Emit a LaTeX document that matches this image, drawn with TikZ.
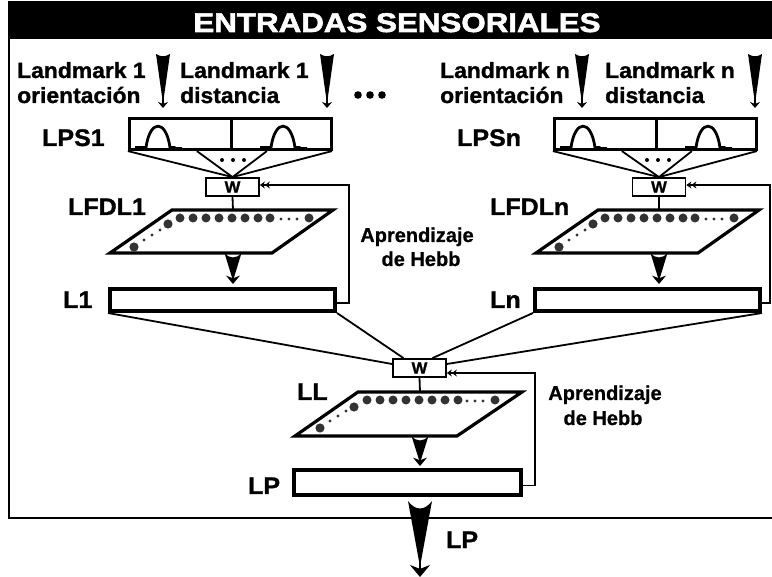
\documentclass[tikz,border=0pt]{standalone}
\usepackage{fontspec}
\setmainfont{Liberation Sans}
\newfontfamily\labf[FakeStretch=1.04,FakeBold=1.2]{Liberation Sans}
\newfontfamily\hdrf[FakeStretch=1.16,FakeBold=2.2]{Liberation Sans}
\newfontfamily\hebf[FakeBold=0.8]{Liberation Sans}
\usetikzlibrary{arrows.meta,calc}
\newcommand\wedgearr[6]{% #1 x, #2 ytop, #3 ytip, #4 half width, #5 notch, #6 head width
  \pgfmathsetmacro\wyb{#2+(#3-#2)*0.80}
  \fill (#1-#4,#2) .. controls (#1-#4*0.4,#2+#5) and (#1+#4*0.4,#2+#5) .. (#1+#4,#2) -- (#1+0.9,\wyb) -- (#1-0.9,\wyb) -- cycle;
  \draw[line width=1.5,-{Stealth[length=#6*0.6,width=#6]}] (#1,\wyb-1) -- (#1,#3);
}
\newcommand\bumps[2]{% #1 x offset, #2 y offset
  \foreach \bx in {0,125}{
    \draw[line width=2.8,line join=round] (135+#1+\bx,147.5+#2) -- (146+#1+\bx,147.5+#2) .. controls (150+#1+\bx,119+#2) and (166+#1+\bx,119+#2) .. (170+#1+\bx,147.5+#2) -- (175+#1+\bx,147.5+#2) -- (175+#1+\bx,148.5+#2) -- (182+#1+\bx,148.5+#2);
  }
}
\begin{document}
\begin{tikzpicture}[x=1pt,y=-1pt,
  lbl/.style={font=\labf\bfseries\fontsize{24}{26}\selectfont, inner sep=0, anchor=base west},
  txt/.style={font=\labf\bfseries\fontsize{22}{25}\selectfont, inner sep=0, anchor=base west},
  heb/.style={font=\hebf\bfseries\fontsize{20}{24}\selectfont, inner sep=0, anchor=base},
  wbox/.style={draw, line width=1.8, minimum width=53, minimum height=18, inner sep=0, font=\labf\bfseries\fontsize{16}{16}\selectfont},
  lbox/.style={draw, line width=4, inner sep=0},
  sbox/.style={draw, line width=3.2, inner sep=0, minimum width=202, minimum height=31},
  thin/.style={line width=1.8},
  para/.style={line width=3.2, line join=miter},
  dbl/.style={-{Stealth[length=5,width=7]Stealth[length=5,width=7]}},
  bdot/.style={fill=black!80},
]
\useasboundingbox (0,0) rectangle (772,577);
% frame and header
\fill (8,1) rectangle (790,39);
\draw[line width=2.2] (9,38) -- (9,518) -- (790,518);
\node[font=\hdrf\bfseries\fontsize{27}{27}\selectfont, text=white, anchor=base] (hdr) at (397,32) {ENTRADAS SENSORIALES};

% landmark texts
\node[txt] (t1a) at (17,78) {Landmark 1};
\node[txt] (t1b) at (17,103) {orientación};
\node[txt] (t2a) at (180,78) {Landmark 1};
\node[txt] (t2b) at (180,103) {distancia};
\node[txt] (t3a) at (440,78) {Landmark n};
\node[txt] (t3b) at (440,103) {orientación};
\node[txt] (t4a) at (605,78) {Landmark n};
\node[txt] (t4b) at (605,103) {distancia};
\wedgearr{163}{54}{108}{7}{3}{10}
\wedgearr{327}{54}{108}{7}{3}{10}
\wedgearr{582}{54}{108}{7}{3}{10}
\wedgearr{755}{54}{108}{7}{3}{10}
\foreach \dx in {358,370,382} \fill (\dx,95) circle (3.8);

% ---- group 1 ----
\node[sbox] (lps1) at (230.5,134) {};
\draw[line width=3] (lps1.north) ++(1,0) -- ++(0,31);
\bumps{0}{0}
\node[lbl] (lps1l) at (42,146) {LPS1};
\node[wbox] (w1) at (232.5,187) {W};
\foreach \dx in {0,69,139,204} \draw[thin] ($(lps1.south west)+(\dx,0)$) -- (w1.north);
\foreach \dx in {222,233,244} \fill (\dx,160) circle (2);
\coordinate (p1) at (233,210);
\draw[para] (172,210) -- (333,210) -- (272,253) -- (110,253) -- cycle;
\draw[thin] (w1.south) -- (p1);
\node[lbl] (lfdl1) at (68,215) {LFDL1};
\foreach \dx in {180,193,206,219,232,245,258,270,309} \fill[bdot] (\dx,218) circle (4.5);
\foreach \dx in {281,289,297} \fill[bdot] (\dx,219) circle (1.6);
\fill[bdot] (168,224) circle (4.6);
\fill[bdot] (134,247) circle (4.6);
\foreach \p in {(144,240),(152,235),(160,230)} \fill[bdot] \p circle (1.6);
\node[lbox, minimum width=225, minimum height=22] (L1) at (222.5,300) {};
\node[lbl] (L1l) at (63,308) {L1};
\wedgearr{233}{253}{284}{8.5}{6}{14}
\draw[thin,dbl] ([yshift=-3pt]L1.east) -| (349,185) -- ([yshift=2pt]w1.east);
\node[heb] (h1a) at (417,242) {Aprendizaje};
\node[heb] (h1b) at (421,266) {de Hebb};

% ---- group n ----
\node[sbox] (lpsn) at (655.5,134) {};
\draw[line width=3] (lpsn.north) ++(1,0) -- ++(0,31);
\bumps{425}{0}
\node[lbl] (lpsnl) at (457,146) {LPSn};
\node[wbox] (wn) at (659,187) {W};
\foreach \dx in {0,69,139,204} \draw[thin] ($(lpsn.south west)+(\dx,0)$) -- (wn.north);
\foreach \dx in {647,658,669} \fill (\dx,160) circle (2);
\coordinate (pn) at (659,210);
\draw[para] (598,210) -- (759,210) -- (698,253) -- (536,253) -- cycle;
\draw[thin] (wn.south) -- (pn);
\node[lbl] (lfdln) at (490,215) {LFDLn};
\foreach \dx in {180,193,206,219,232,245,258,270,309} \fill[bdot] (\dx+425,218) circle (4.5);
\foreach \dx in {281,289,297} \fill[bdot] (\dx+425,219) circle (1.6);
\fill[bdot] (593,224) circle (4.6);
\fill[bdot] (559,247) circle (4.6);
\foreach \p in {(569,240),(577,235),(585,230)} \fill[bdot] \p circle (1.6);
\node[lbox, minimum width=225, minimum height=22] (Ln) at (647.5,300) {};
\node[lbl] (Lnl) at (490,308) {Ln};
\wedgearr{659}{253}{284}{8.5}{6}{14}
\draw[thin,dbl] ([yshift=-3pt]Ln.east) -| (770,185) -- ([yshift=2pt]wn.east);

% ---- bottom ----
\node[wbox] (w2) at (419.5,368) {W};
\draw[thin] (L1.south west) -- ([yshift=4pt]w2.west);
\draw[thin] (L1.south east) -- ([xshift=-16pt]w2.north);
\draw[thin] (Ln.south west) -- ([xshift=13pt]w2.north);
\draw[thin] (Ln.south east) -- ([yshift=4pt]w2.east);
\coordinate (p2) at (420,392);
\draw[para] (358,392) -- (522,392) -- (457,436) -- (295,436) -- cycle;
\draw[thin] (w2.south) -- (p2);
\node[lbl] (LLl) at (297,400) {LL};
\foreach \dx in {367,380,393,406,419,432,445,458,495} \fill[bdot] (\dx,400) circle (4.5);
\foreach \dx in {467,475,483} \fill[bdot] (\dx,401) circle (1.6);
\fill[bdot] (354,407) circle (4.6);
\fill[bdot] (320,428) circle (4.6);
\foreach \p in {(330,421),(338,416),(346,411)} \fill[bdot] \p circle (1.6);
\node[lbox, minimum width=227, minimum height=25] (LP) at (407.5,482.5) {};
\node[lbl] (LPl) at (248,494) {LP};
\wedgearr{420}{436}{466}{8.5}{6}{14}
\draw[thin,dbl] ([yshift=-3pt]LP.east) -| (535,373) -- ([yshift=-5pt]w2.east);
\node[heb] (h2a) at (605,400) {Aprendizaje};
\node[heb] (h2b) at (603,425) {de Hebb};
\wedgearr{420}{501}{577}{12}{10}{20}
\node[lbl] (LPo) at (446,548) {LP};
\end{tikzpicture}
\end{document}
